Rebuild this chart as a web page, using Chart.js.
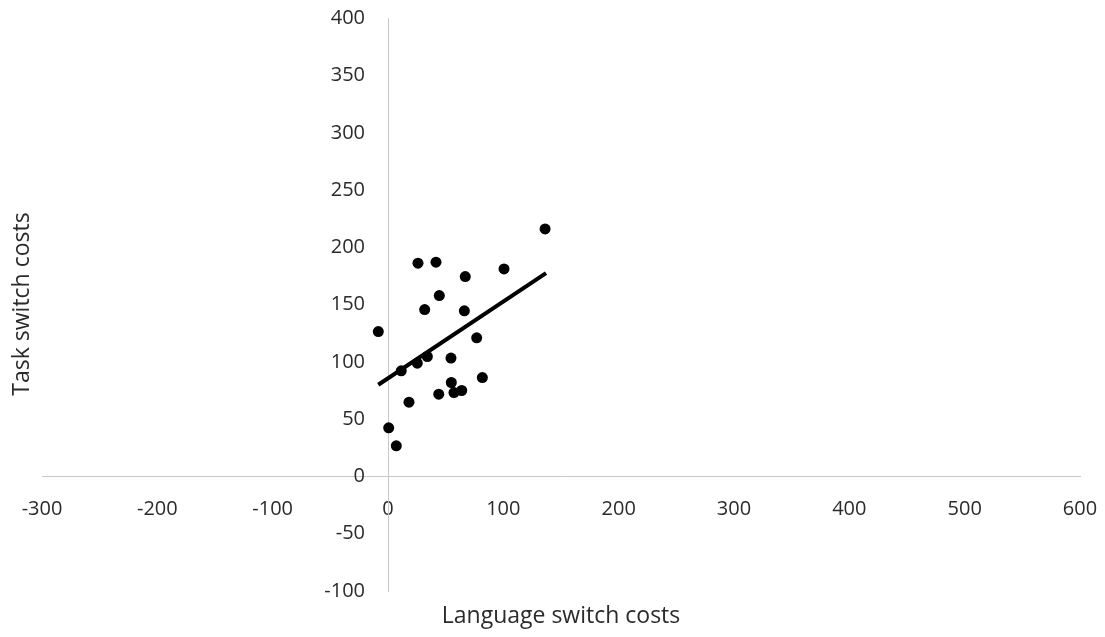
<!DOCTYPE html>
<html>
<head>
<meta charset="utf-8">
<script src="https://cdn.jsdelivr.net/npm/chart.js@4/dist/chart.umd.min.js"></script>
<style>
  html, body { margin: 0; padding: 0; background: #fff; }
  #wrap { width: 1105px; height: 637px; }
</style>
</head>
<body>
<div id="wrap"><canvas id="chart" width="1105" height="637"></canvas></div>
<script>
// language switch cost (x) vs task switch cost (y)
const langCost = [136.2, 26.0, 41.6, 100.6, 67.0, 44.5, 31.8, 66.2, -8.4, 76.9, 34.1,
                  54.6, 25.4, 11.5, 81.8, 54.9, 63.9, 57.2, 44.0, 18.2, 0.6, 7.2];
const taskCost = [216.2, 186.3, 187.2, 181.3, 174.6, 158.0, 145.8, 144.7, 126.6, 121.1, 104.8,
                  103.4, 99.0, 92.3, 86.4, 82.1, 75.1, 73.3, 71.9, 64.9, 42.5, 26.8];

// linear trendline end points
const trendX = [-8.4, 137.0];
const trendY = [80.1, 177.6];

const xTicks = [-300, 600, 100];  // min, max, step
const yTicks = [-100, 400, 50];

const xTitle = "Language switch costs";
const yTitle = "Task switch costs";

const FONT = "'Open Sans', 'Noto Sans', sans-serif";
const TEXT = "#2b2b2b";

const pts = langCost.map((x, i) => ({ x, y: taskCost[i] }));
const trend = trendX.map((x, i) => ({ x, y: trendY[i] }));

// y labels on a centred axis ignore ticks.padding, so push them left here
const yLabelGap = {
  id: "yLabelGap",
  beforeDraw(chart) {
    chart.scales.y.getLabelItems().forEach(item => {
      if (!item._shifted) {
        item.options.translation[0] -= 23;
        item._shifted = true;
      }
    });
  }
};

// axis titles drawn at fixed spots, like the Excel original
const axisTitles = {
  id: "axisTitles",
  afterDraw(chart) {
    const ctx = chart.ctx;
    ctx.save();
    ctx.fillStyle = TEXT;
    ctx.font = `23px ${FONT}`;
    ctx.textAlign = "center";
    ctx.textBaseline = "middle";
    ctx.fillText(xTitle, 561, 616);
    ctx.translate(22, 304);
    ctx.rotate(-Math.PI / 2);
    ctx.fillText(yTitle, 0, 0);
    ctx.restore();
  }
};

new Chart(document.getElementById("chart"), {
  type: "scatter",
  data: {
    datasets: [
      {
        data: pts,
        backgroundColor: "#000",
        borderWidth: 0,
        pointRadius: 5.5,
        pointHoverRadius: 5.5
      },
      {
        type: "line",
        data: trend,
        borderColor: "#000",
        borderWidth: 4,
        pointRadius: 0,
        fill: false
      }
    ]
  },
  options: {
    responsive: false,
    animation: false,
    devicePixelRatio: 1,
    layout: { padding: { left: 42, right: 25, top: 18.5, bottom: 46 } },
    plugins: {
      legend: { display: false },
      tooltip: { enabled: false }
    },
    scales: {
      x: {
        type: "linear",
        position: { y: 0 },
        min: xTicks[0],
        max: xTicks[1],
        ticks: {
          stepSize: xTicks[2],
          padding: 0,
          color: TEXT,
          font: { family: FONT, size: 20 },
          maxRotation: 0
        },
        grid: { display: false, drawTicks: true, tickLength: 21 },
        border: { display: true, color: "#c8c8c8", width: 1 }
      },
      y: {
        type: "linear",
        position: { x: 0 },
        min: yTicks[0],
        max: yTicks[1],
        ticks: {
          stepSize: yTicks[2],
          padding: 0,
          color: TEXT,
          font: { family: FONT, size: 20 }
        },
        grid: { display: false, drawTicks: false },
        border: { display: true, color: "#c8c8c8", width: 1 }
      }
    }
  },
  plugins: [yLabelGap, axisTitles]
});
</script>
</body>
</html>
